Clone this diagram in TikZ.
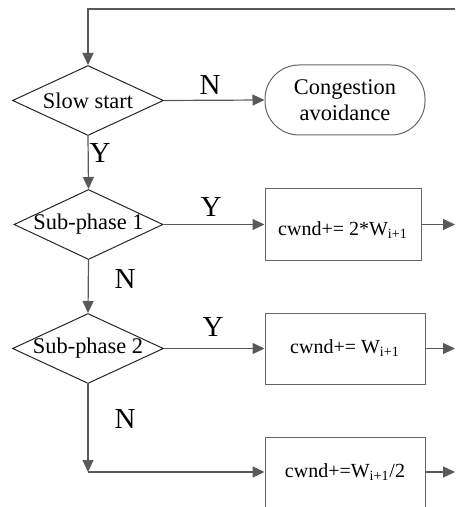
\documentclass[tikz,border=0pt]{standalone}
\usepackage{fontspec}
\setmainfont{Liberation Serif}
\usetikzlibrary{
  shapes.geometric,
  arrows.meta,
  }

\begin{document}
\begin{tikzpicture}[x=0.5pt, y=-0.5pt,
    every node/.style={font=\fontsize{11.2}{13}\selectfont},
    line/.style={draw=black!65, line width=0.6pt},
    arr/.style={line, -{Triangle[length=6pt, width=5.5pt]}},
    decision/.style={diamond, draw=black!85, line width=0.5pt, inner sep=-12pt,
        minimum width=75.5pt, minimum height=35pt},
    proc/.style={rectangle, draw=black!60, line width=0.5pt,
        minimum width=80pt, minimum height=35.5pt, font=\fontsize{10}{12}\selectfont},
    term/.style={rectangle, rounded corners=17pt, draw=black!60, line width=0.5pt,
        minimum width=80pt, minimum height=35pt, align=center},
    yn/.style={font=\fontsize{14.5}{15}\selectfont, inner sep=0pt}]
                \path[use as bounding box, clip] (0,0) rectangle (455,507);
                % decisions
                \node[decision] (slow) at (88,100.5) {Slow start};
                \node[decision, minimum width=74.5pt] (sub1) at (88.5,224.5) {Sub-phase 1};
                \node[decision] (sub2) at (88,348.5) {Sub-phase 2};
                % actions
                \node[term] (cong) at (345,100) {Congestion\\avoidance};
                \node[proc, minimum width=78pt, text height=11pt, text depth=0pt] (inc1) at (343,224.5) {cwnd+= 2*W\textsubscript{i+1}};
                \node[proc] (inc2) at (345,348.5) {cwnd+= W\textsubscript{i+1}};
                \node[proc] (inc3) at (345,472.5) {cwnd+=W\textsubscript{i+1}/2};
                % loose ends
                \coordinate (back) at (455,9);
                \coordinate (top) at (88,9);
                \coordinate (out1) at (455,224.5);
                \coordinate (out2) at (455,348.5);
                \coordinate (out3) at (455,472);
                \coordinate (bend) at (88,472);
                % connectors
                \draw[arr] (back) -- (top) -- (slow.north);
                \draw[arr] (slow.east) -- (cong.west);
                \draw[arr] (slow.south) -- (sub1.north);
                \draw[arr] (sub1.east) -- (inc1.west);
                \draw[arr] (inc1.east) -- (out1);
                \draw[arr] (sub1.south) -- (sub2.north);
                \draw[arr] (sub2.east) -- (inc2.west);
                \draw[arr] (inc2.east) -- (out2);
                \draw[arr] (sub2.south) -- (bend);
                \draw[arr] (bend) -- (inc3.west |- bend);
                \draw[arr] (inc3.east |- out3) -- (out3);
                % labels
                \node[yn] (ln1) at (210,85) {N};
                \node[yn] (ly1) at (100,153) {Y};
                \node[yn] (ly2) at (211,207) {Y};
                \node[yn] (ln2) at (125,279) {N};
                \node[yn] (ly3) at (213,327) {Y};
                \node[yn] (ln3) at (125,419) {N};
            \end{tikzpicture}
\end{document}
